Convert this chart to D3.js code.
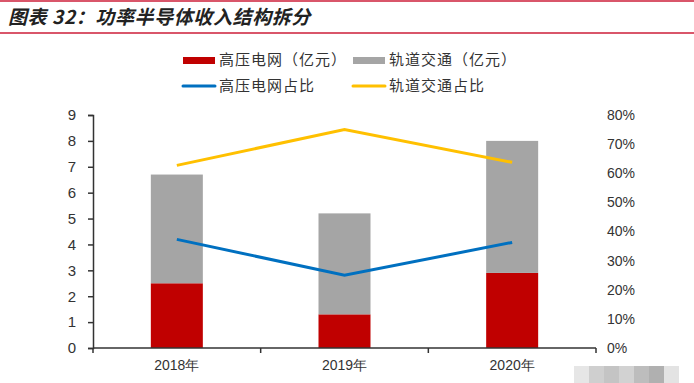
<!DOCTYPE html>
<html>
<head>
<meta charset="utf-8">
<script src="https://cdn.jsdelivr.net/npm/d3@7"></script>
<style>
body{margin:0;background:#fff;}
text{font-family:"Liberation Sans",Arial,sans-serif;}
.cjk{font-family:"Noto Sans CJK SC","Liberation Sans",sans-serif;}
</style>
</head>
<body>
<div id="chart"></div>
<script>
// data
var years = ["2018年", "2019年", "2020年"];
var gridValues = [2.5, 1.3, 2.9];      // 高压电网 (亿元)
var railValues = [4.2, 3.9, 5.1];      // 轨道交通 (亿元)
var gridShare = [0.373, 0.25, 0.3625]; // 高压电网占比
var railShare = [0.627, 0.75, 0.6375]; // 轨道交通占比
var leftTicks = [0, 1, 2, 3, 4, 5, 6, 7, 8, 9];
var rightTicks = [0, 0.1, 0.2, 0.3, 0.4, 0.5, 0.6, 0.7, 0.8];

var W = 694, H = 383;
var svg = d3.select("#chart").append("svg").attr("width", W).attr("height", H);

// header
svg.append("rect").attr("x", 0).attr("y", 0).attr("width", W).attr("height", 2).attr("fill", "#d9566a");
svg.append("rect").attr("x", 0).attr("y", 32).attr("width", W).attr("height", 2).attr("fill", "#d9566a");
svg.append("text").attr("class", "cjk")
    .attr("x", 8).attr("y", 24)
    .attr("font-size", 19).attr("font-weight", "bold").attr("font-style", "italic")
    .attr("fill", "#222").attr("letter-spacing", 0.6)
    .text("图表 32：功率半导体收入结构拆分");

var pLeft = 93, pRight = 596, pTop = 115, pBottom = 348;

var x = d3.scaleBand().domain(years).range([pLeft, pRight]);
var yL = d3.scaleLinear().domain([0, 9]).range([pBottom, pTop]);
var yR = d3.scaleLinear().domain([0, 0.8]).range([pBottom, pTop]);
var barW = 52;

// bars
var g = svg.append("g");
years.forEach(function(yr, i){
    var cx = x(yr) + x.bandwidth() / 2;
    g.append("rect")
        .attr("x", cx - barW / 2).attr("width", barW)
        .attr("y", yL(gridValues[i])).attr("height", yL(0) - yL(gridValues[i]))
        .attr("fill", "#c00000");
    g.append("rect")
        .attr("x", cx - barW / 2).attr("width", barW)
        .attr("y", yL(gridValues[i] + railValues[i]))
        .attr("height", yL(gridValues[i]) - yL(gridValues[i] + railValues[i]))
        .attr("fill", "#a5a5a5");
});

// lines
var line = d3.line()
    .x(function(d, i){ return x(years[i]) + x.bandwidth() / 2; })
    .y(function(d){ return yR(d); });
svg.append("path").datum(railShare).attr("d", line)
    .attr("fill", "none").attr("stroke", "#ffc000").attr("stroke-width", 3);
svg.append("path").datum(gridShare).attr("d", line)
    .attr("fill", "none").attr("stroke", "#0070c0").attr("stroke-width", 3);

// left axis
var axL = svg.append("g").attr("transform", "translate(" + pLeft + ",0)")
    .call(d3.axisLeft(yL).tickValues(leftTicks).tickSize(5).tickPadding(12));
axL.select(".domain").attr("stroke", "#333").attr("stroke-width", 1.5);
axL.selectAll(".tick line").attr("stroke", "#333").attr("stroke-width", 1.5);
axL.selectAll("text").attr("font-size", 15).attr("fill", "#333")
    .attr("font-family", "Liberation Sans, Arial, sans-serif");

// right axis (labels only)
var axR = svg.append("g").attr("transform", "translate(" + pRight + ",0)")
    .call(d3.axisRight(yR).tickValues(rightTicks).tickFormat(d3.format(".0%")).tickSize(0).tickPadding(11));
axR.select(".domain").remove();
axR.selectAll("text").attr("font-size", 14).attr("fill", "#333")
    .attr("font-family", "Liberation Sans, Arial, sans-serif");

// x axis
var axX = svg.append("g").attr("transform", "translate(0," + pBottom + ")")
    .call(d3.axisBottom(x).tickSize(0).tickPadding(12));
axX.select(".domain").attr("stroke", "#333").attr("stroke-width", 1.5)
    .attr("d", "M" + pLeft + ",0H" + pRight);
axX.selectAll("text").attr("font-size", 14).attr("fill", "#333")
    .attr("font-family", "Noto Sans CJK SC, Liberation Sans, sans-serif");
// category separators
var seps = d3.range(years.length + 1).map(function(i){ return pLeft + i * x.step(); });
axX.selectAll(".sep").data(seps).enter().append("line")
    .attr("x1", function(d){ return d; }).attr("x2", function(d){ return d; })
    .attr("y1", 0).attr("y2", 5)
    .attr("stroke", "#333").attr("stroke-width", 1.5);

// legend
var legend = [
    {label: "高压电网（亿元）", color: "#c00000", type: "bar", x: 183, y: 60},
    {label: "轨道交通（亿元）", color: "#a5a5a5", type: "bar", x: 353, y: 60},
    {label: "高压电网占比", color: "#0070c0", type: "line", x: 183, y: 86},
    {label: "轨道交通占比", color: "#ffc000", type: "line", x: 353, y: 86}
];
var lg = svg.append("g");
legend.forEach(function(d){
    if(d.type === "bar"){
        lg.append("rect").attr("x", d.x).attr("y", d.y - 3).attr("width", 32).attr("height", 7).attr("fill", d.color);
    } else {
        lg.append("line").attr("x1", d.x).attr("x2", d.x + 32).attr("y1", d.y).attr("y2", d.y)
            .attr("stroke", d.color).attr("stroke-width", 3).attr("stroke-linecap", "round");
    }
    lg.append("text").attr("class", "cjk").attr("x", d.x + 36).attr("y", d.y + 5)
        .attr("font-size", 15).attr("fill", "#333").attr("letter-spacing", 1).text(d.label);
});

// blurred watermark block at bottom right
var mosaic = ["#e6e6e6", "#cfcfcf", "#c4c4c4", "#d2d2d2", "#bdbdbd", "#b0b0b0", "#e3e3e3"];
mosaic.forEach(function(c, i){
    svg.append("rect").attr("x", 574 + i * 15).attr("y", 366).attr("width", 15).attr("height", 17).attr("fill", c);
});
</script>
</body>
</html>
